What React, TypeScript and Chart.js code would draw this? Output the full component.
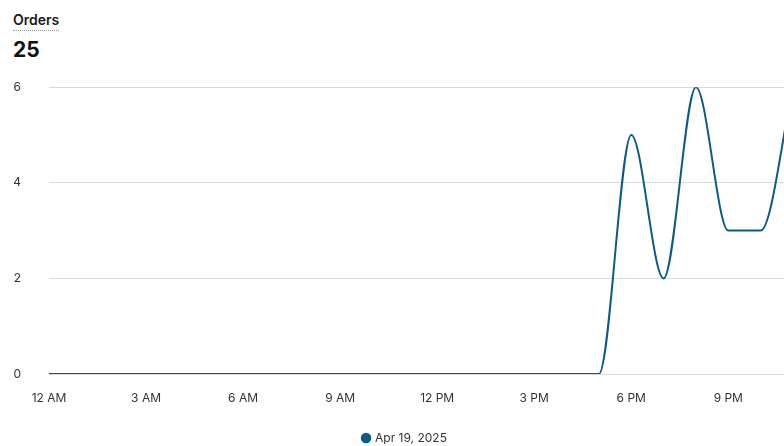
import React, { useEffect, useRef } from "react";
import { Chart, registerables } from "chart.js";

Chart.register(...registerables);

// Hourly order counts for a single day
const hourLabels = [
  "12 AM", "1 AM", "2 AM", "3 AM", "4 AM", "5 AM", "6 AM", "7 AM", "8 AM", "9 AM", "10 AM", "11 AM",
  "12 PM", "1 PM", "2 PM", "3 PM", "4 PM", "5 PM", "6 PM", "7 PM", "8 PM", "9 PM", "10 PM", "11 PM",
];
const orders = [0, 0, 0, 0, 0, 0, 0, 0, 0, 0, 0, 0, 0, 0, 0, 0, 0, 0, 5, 2, 6, 3, 3, 6];
const seriesLabel = "Apr 19, 2025";
const yTicks = [0, 2, 4, 6];

const total = orders.reduce((a, b) => a + b, 0);
const LINE = "#0b5c85";
const FONT = "Inter, 'Liberation Sans', sans-serif";

export default function App() {
  const ref = useRef<HTMLCanvasElement | null>(null);

  useEffect(() => {
    if (!ref.current) return;
    const chart = new Chart(ref.current, {
      type: "line",
      data: {
        labels: hourLabels,
        datasets: [
          {
            label: seriesLabel,
            data: orders,
            borderColor: LINE,
            backgroundColor: LINE,
            borderWidth: 2,
            pointRadius: 0,
            cubicInterpolationMode: "monotone",
            fill: false,
          },
        ],
      },
      options: {
        responsive: false,
        animation: false,
        layout: { padding: { top: 19, right: 0, left: 0, bottom: 0 } },
        plugins: {
          tooltip: { enabled: false },
          legend: {
            position: "bottom",
            labels: {
              usePointStyle: true,
              pointStyle: "circle",
              boxWidth: 6,
              boxHeight: 6,
              padding: 10,
              color: "#333",
              font: { family: FONT, size: 12 },
            },
          },
        },
        scales: {
          x: {
            offset: false,
            grid: { display: false, drawTicks: false },
            border: { display: false },
            afterFit: (scale) => {
              scale.height = 48;
            },
            ticks: {
              autoSkip: false,
              maxRotation: 0,
              padding: 17,
              color: "#333",
              font: { family: FONT, size: 12 },
              callback: (_v, i) => (i % 3 === 0 ? hourLabels[i] : ""),
            },
          },
          y: {
            min: yTicks[0],
            max: yTicks[yTicks.length - 1],
            afterBuildTicks: (scale) => {
              scale.ticks = yTicks.map((v) => ({ value: v }));
            },
            afterFit: (scale) => {
              scale.width = 49;
            },
            grid: { color: "#d9d9d9", lineWidth: 1, drawTicks: false },
            border: { display: false },
            ticks: {
              padding: 28,
              color: "#333",
              font: { family: FONT, size: 12 },
            },
          },
        },
      },
    });
    return () => chart.destroy();
  }, []);

  return (
    <div
      style={{
        position: "absolute",
        left: 0,
        top: 0,
        width: 784,
        height: 446,
        overflow: "hidden",
        background: "#fff",
        fontFamily: FONT,
      }}
    >
      <div
        style={{
          position: "absolute",
          left: 13,
          top: 11,
          fontSize: 14,
          fontWeight: 600,
          color: "#1a1a1a",
          lineHeight: "17px",
          paddingBottom: 2,
          borderBottom: "1px dotted #999",
        }}
      >
        Orders
      </div>
      <div
        style={{
          position: "absolute",
          left: 13,
          top: 37,
          fontSize: 21,
          fontWeight: 700,
          color: "#111",
          lineHeight: "25px",
        }}
      >
        {total}
      </div>
      <canvas
        ref={ref}
        width={810}
        height={402}
        style={{ position: "absolute", left: 0, top: 52, width: 810, height: 402 }}
      />
    </div>
  );
}
